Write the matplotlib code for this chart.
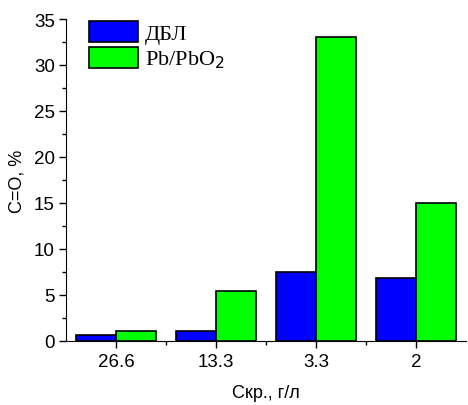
import numpy as np
import matplotlib.pyplot as plt
from matplotlib.ticker import MultipleLocator, FixedLocator

categories = ["26.6", "13.3", "3.3", "2"]
dbl = [0.6, 1.1, 7.5, 6.8]
pb = [1.1, 5.4, 33.0, 15.0]

plt.rcParams['font.family'] = ['Liberation Sans', 'DejaVu Sans']
plt.rcParams['font.size'] = 13.5

fig = plt.figure(figsize=(4.68, 4.06), dpi=100)
ax = fig.add_axes([66 / 468, 1 - 342 / 406, 400 / 468, 322 / 406])

x = np.arange(len(categories))
w = 0.4
ax.bar(x - w / 2, dbl, w, color='#0000ff', edgecolor='black', linewidth=1.2, label='ДБЛ')
ax.bar(x + w / 2, pb, w, color='#00ff00', edgecolor='black', linewidth=1.2, label='Pb/PbO$_2$')

ax.set_xlim(-0.5, 3.5)
ax.set_ylim(0, 35)
ax.set_xticks(x)
ax.set_xticklabels(categories)
ax.xaxis.set_minor_locator(FixedLocator([0.5, 1.5, 2.5]))
ax.yaxis.set_major_locator(MultipleLocator(5))
ax.yaxis.set_minor_locator(MultipleLocator(2.5))
ax.tick_params(which='major', direction='out', length=5, width=1)
ax.tick_params(which='minor', direction='out', length=3, width=1)
ax.tick_params(axis='x', pad=4)
ax.tick_params(axis='y', pad=3)
for s in ['top', 'right']:
    ax.spines[s].set_visible(False)

ax.set_xlabel('Скр., г/л', labelpad=10, fontsize=13)
ax.set_ylabel('C=O, %', labelpad=6, fontsize=13)

leg = ax.legend(loc='upper left', bbox_to_anchor=(0.0575, 0.994), frameon=False,
                prop={'family': 'Liberation Serif', 'size': 16},
                borderaxespad=0, borderpad=0,
                handlelength=2.2, handleheight=1.05, handletextpad=0.3, labelspacing=0.14)

fig.savefig('out.png', dpi=100)
